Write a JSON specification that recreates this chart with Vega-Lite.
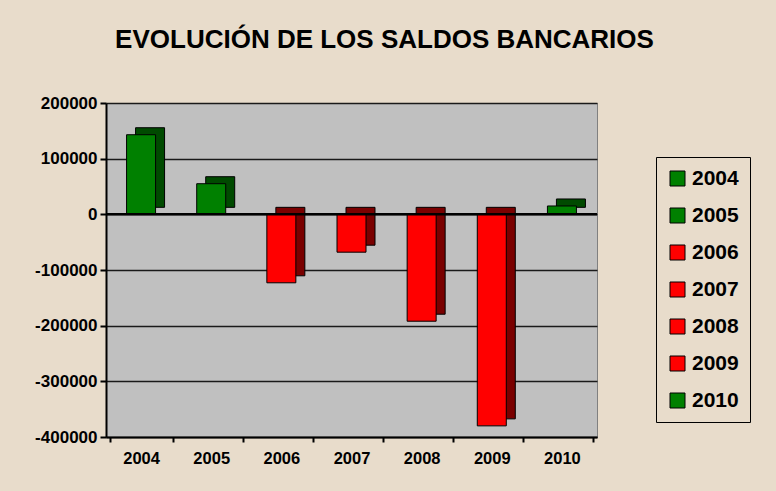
{
  "$schema": "https://vega.github.io/schema/vega-lite/v6.json",
  "width": 491,
  "height": 334,
  "autosize": {"type": "none"},
  "padding": {"left": 106, "top": 103, "right": 179, "bottom": 54},
  "background": "#E8DCCB",
  "title": {
    "text": "EVOLUCIÓN DE LOS SALDOS BANCARIOS",
    "font": "Liberation Sans",
    "fontSize": 26,
    "fontWeight": "bold",
    "color": "#000000",
    "anchor": "middle",
    "dx": 33,
    "offset": 41
  },
  "config": {
    "view": {"fill": "#C0C0C0", "stroke": "#808080", "strokeWidth": 1},
    "font": "Liberation Sans"
  },
  "data": {
    "values": [
      {"anio": "2004", "saldo": 143000},
      {"anio": "2005", "saldo": 55000},
      {"anio": "2006", "saldo": -123000},
      {"anio": "2007", "saldo": -68000},
      {"anio": "2008", "saldo": -192000},
      {"anio": "2009", "saldo": -380000},
      {"anio": "2010", "saldo": 15000}
    ]
  },
  "encoding": {
    "x": {
      "field": "anio",
      "type": "ordinal",
      "axis": {
        "title": null,
        "labelAngle": 0,
        "labelFont": "Liberation Sans",
        "labelFontSize": 16.5,
        "labelFontWeight": "bold",
        "labelColor": "#000000",
        "labelPadding": 8,
        "tickBand": "extent",
        "tickColor": "#000000",
        "tickSize": 5,
        "tickWidth": 2,
        "domainColor": "#000000",
        "domainWidth": 2,
        "grid": false
      }
    },
    "y": {
      "field": "saldo",
      "type": "quantitative",
      "scale": {"domain": [-400000, 200000], "nice": false, "zero": false},
      "axis": {
        "title": null,
        "values": [-400000, -300000, -200000, -100000, 0, 100000, 200000],
        "labelExpr": "'' + datum.value",
        "labelFont": "Liberation Sans",
        "labelFontSize": 17,
        "labelFontWeight": "bold",
        "labelColor": "#000000",
        "labelPadding": 3,
        "tickColor": "#000000",
        "tickSize": 6,
        "tickWidth": 2,
        "domainColor": "#000000",
        "domainWidth": 2,
        "grid": true,
        "gridColor": "#1a1a1a",
        "gridWidth": 1.5
      }
    }
  },
  "layer": [
    {
      "mark": {"type": "bar", "width": 29, "xOffset": 9, "yOffset": -7, "stroke": "#000000", "strokeWidth": 1},
      "encoding": {
        "fill": {
          "condition": {"test": "datum.saldo > 0", "value": "#004a00"},
          "value": "#7a0000"
        }
      }
    },
    {
      "mark": {"type": "bar", "width": 29, "stroke": "#000000", "strokeWidth": 1},
      "encoding": {
        "color": {
          "field": "anio",
          "type": "nominal",
          "scale": {
            "domain": ["2004", "2005", "2006", "2007", "2008", "2009", "2010"],
            "range": ["#008000", "#008000", "#FF0000", "#FF0000", "#FF0000", "#FF0000", "#008000"]
          },
          "legend": {
            "title": null,
            "orient": "none",
            "legendX": 550,
            "legendY": 54,
            "padding": 11,
            "strokeColor": "#000000",
            "fillColor": "#E8DCCB",
            "symbolType": "square",
            "symbolSize": 225,
            "symbolStrokeColor": "#000000",
            "symbolStrokeWidth": 1,
            "symbolOpacity": 1,
            "labelFont": "Liberation Sans",
            "labelFontSize": 21,
            "labelFontWeight": "bold",
            "labelColor": "#000000",
            "labelOffset": 4,
            "rowPadding": 15
          }
        }
      }
    },
    {
      "mark": {"type": "rule", "color": "#000000", "strokeWidth": 2.5},
      "data": {"values": [{"cero": 0}]},
      "encoding": {
        "y": {"field": "cero", "type": "quantitative"},
        "x": null
      }
    }
  ]
}
